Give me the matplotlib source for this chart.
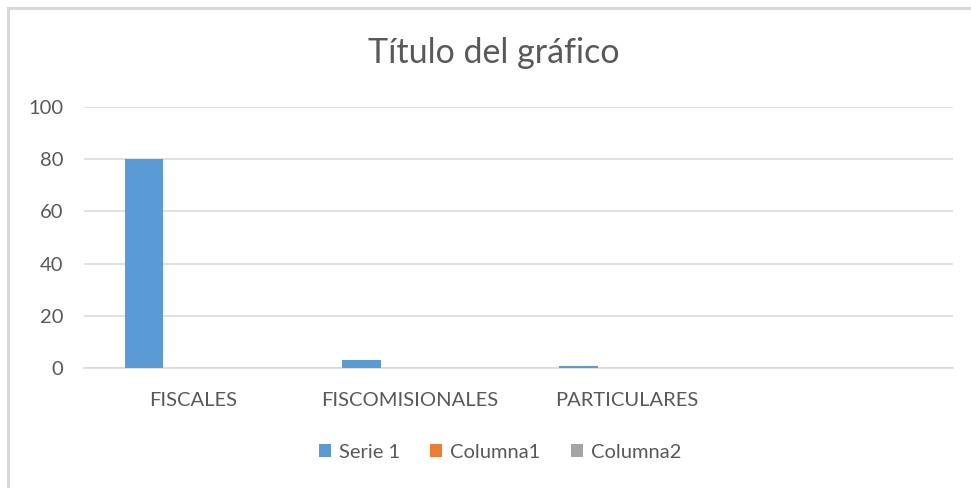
import matplotlib
matplotlib.use("Agg")
import matplotlib.pyplot as plt
from matplotlib.patches import Rectangle
import numpy as np

categories = ["FISCALES", "FISCOMISIONALES", "PARTICULARES", ""]
series_names = ["Serie 1", "Columna1", "Columna2"]
serie1 = [80, 3, 0.6, 0]
columna1 = [0, 0, 0, 0]
columna2 = [0, 0, 0, 0]
colors = ["#5b9bd5", "#ed7d31", "#a5a5a5"]
yticks = [0, 20, 40, 60, 80, 100]

plt.rcParams["font.family"] = ["Lato", "DejaVu Sans"]
text_color = "#595959"

fig = plt.figure(figsize=(9.71, 4.88), dpi=100)
ax = fig.add_axes([84 / 971, 1 - 368 / 488, (953 - 84) / 971, (368 - 107) / 488])

# chart frame (only top and left edges visible in the crop)
fig.patches.append(Rectangle((8 / 971, -0.1), 1.2, 1 - 8 / 488 + 0.1,
                             transform=fig.transFigure, fill=False,
                             edgecolor="#d9d9d9", linewidth=2.2))

x = np.arange(len(categories))
width = 0.177
offsets = [-0.223, 0, 0.223]
for vals, name, col, off in zip([serie1, columna1, columna2], series_names, colors, offsets):
    ax.bar(x + off, vals, width, color=col, label=name, zorder=3)

ax.set_xlim(-0.5, len(categories) - 0.5)
ax.set_ylim(0, 100)
ax.set_yticks(yticks)
ax.set_xticks(x)
ax.set_xticklabels(categories)
ax.yaxis.grid(True, color="#d9d9d9", linewidth=1.1, zorder=0)
for s in ["top", "right", "left"]:
    ax.spines[s].set_visible(False)
ax.spines["bottom"].set_color("#d9d9d9")
ax.spines["bottom"].set_linewidth(1.1)
ax.tick_params(axis="both", length=0, labelsize=14.5, colors=text_color)
ax.tick_params(axis="y", pad=15)
ax.tick_params(axis="x", pad=17)

fig.text(494 / 971, 1 - 53 / 488, "Título del gráfico", ha="center", va="center",
         fontsize=24.5, color=text_color)

fig.legend(loc="center", bbox_to_anchor=(500 / 971, 1 - 452 / 488), ncol=3,
           frameon=False, fontsize=14.5, labelcolor=text_color,
           handlelength=0.6, handleheight=0.6, handletextpad=0.4, columnspacing=1.5)

fig.savefig("out.png", dpi=100)
